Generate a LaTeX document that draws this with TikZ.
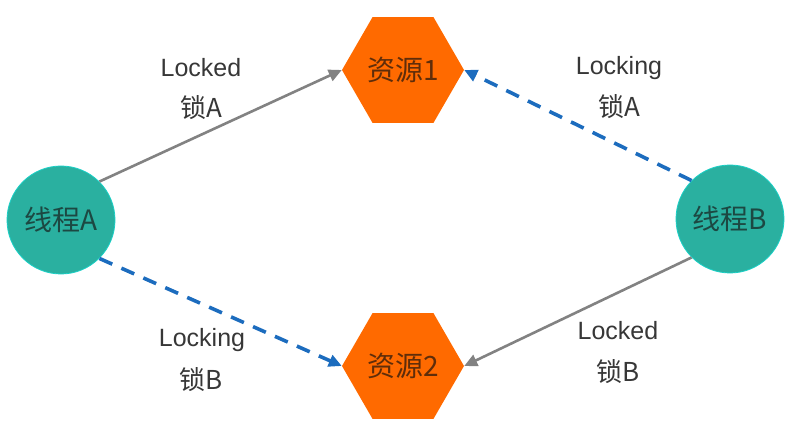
\documentclass[tikz,border=0pt]{standalone}
\usepackage{fontspec}
\setmainfont{Liberation Sans}
\newfontfamily\cjk{Noto Sans CJK SC}
\usetikzlibrary{shapes.geometric,arrows.meta}
\definecolor{threadteal}{RGB}{42,176,160}
\definecolor{resorange}{RGB}{255,106,0}
\definecolor{lockgray}{RGB}{130,130,130}
\definecolor{waitblue}{RGB}{28,108,190}
\definecolor{labeltext}{RGB}{55,55,55}
\definecolor{threadtext}{RGB}{28,72,66}
\definecolor{restext}{RGB}{95,45,10}

\begin{document}
\begin{tikzpicture}[x=1pt,y=1pt,
	thread/.style={circle,fill=threadteal,draw=threadteal!60!cyan,line width=0.8pt,minimum size=108pt,inner sep=0pt,font=\cjk\fontsize{28}{28}\selectfont,text=threadtext},
	res/.style={regular polygon,regular polygon sides=6,fill=resorange,minimum size=122pt,inner sep=0pt,font=\cjk\fontsize{28}{28}\selectfont,text=restext},
	held/.style={draw=lockgray,line width=2.6pt,-{Triangle[length=13pt,width=12pt]}},
	wait/.style={draw=waitblue,line width=3.6pt,dash pattern=on 14pt off 10pt,-{Triangle[length=13pt,width=12pt]}},
	lbl/.style={font=\fontsize{25}{25}\selectfont,text=labeltext},
	lblcjk/.style={font=\cjk\fontsize{26}{26}\selectfont,text=labeltext}]
		\useasboundingbox (0,0) rectangle (790,437);
		
		% threads and resources
		\node[thread] (threadA) at (61,217) {线程A};
		\node[thread] (threadB) at (730,218) {线程B};
		\node[res] (res1) at (403,367) {资源1};
		\node[res] (res2) at (403,71) {资源2};
		
		% connectors
		\draw[held] (threadA.45) -- (res1.west);
		\draw[wait] (threadB.135) -- (res1.east);
		\draw[wait] (threadA.-45) -- (res2.west);
		\draw[held] (threadB.225) -- (res2.east);
		
		% labels
		\node[lbl] (lockedA) at (201,369) {Locked};
		\node[lblcjk] (lockA1) at (201,329) {锁A};
		\node[lbl] (lockingA) at (619,369) {Locking};
		\node[lblcjk] (lockA2) at (619,330) {锁A};
		\node[lbl] (lockingB) at (202,97) {Locking};
		\node[lblcjk] (lockB1) at (201,57) {锁B};
		\node[lbl] (lockedB) at (618,106) {Locked};
		\node[lblcjk] (lockB2) at (618,65) {锁B};
\end{tikzpicture}
\end{document}
